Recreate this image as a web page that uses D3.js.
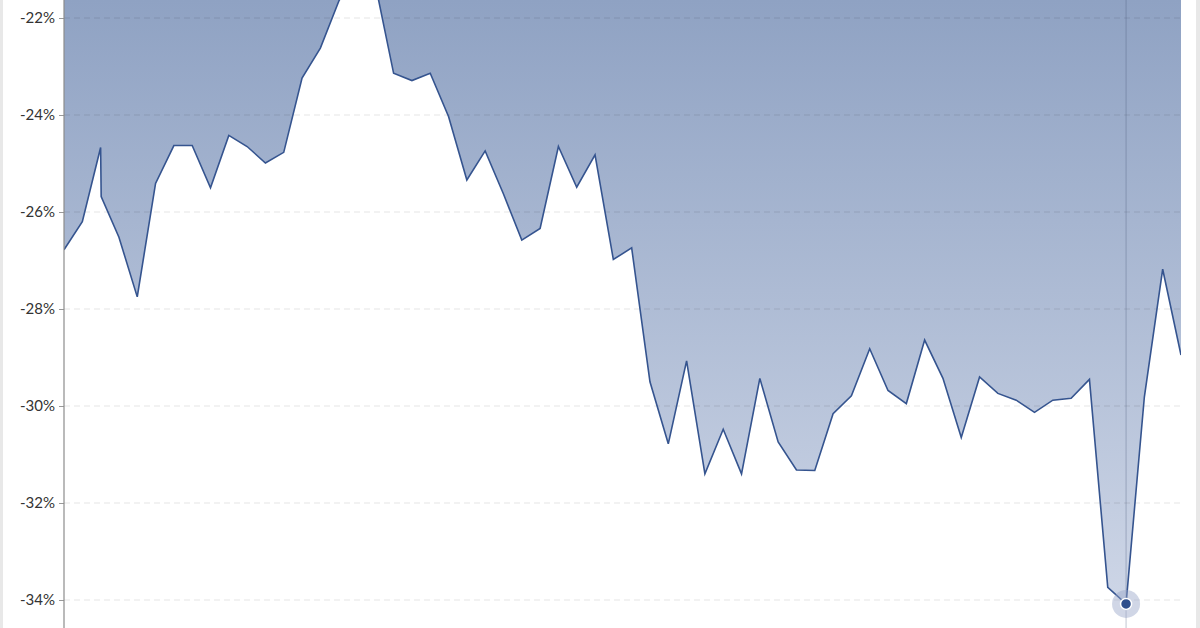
<!DOCTYPE html>
<html>
<head>
<meta charset="utf-8">
<script src="https://cdn.jsdelivr.net/npm/d3@7"></script>
<style>
  html, body { margin: 0; padding: 0; background: #fff; }
  svg { display: block; }
</style>
</head>
<body>
<svg id="chart" width="1200" height="628"></svg>
<script>
// ---- Data ----
const periods = [0, 1, 2, 2.03, 3, 4, 5, 6, 7, 8, 9, 10, 11, 12, 13, 14, 15, 16, 17, 18, 19, 20,
  21, 22, 23, 24, 25, 26, 27, 28, 29, 30, 31, 32, 33, 34, 35, 36, 37, 38, 39, 40,
  41, 42, 43, 44, 45, 46, 47, 48, 49, 50, 51, 52, 53, 54, 55, 56, 57, 58, 59, 60, 61];
const values = [-26.78, -26.2, -24.67, -25.68, -26.52, -27.75, -25.41, -24.63, -24.63, -25.5, -24.42, -24.65, -24.99, -24.77, -23.24, -22.62, -21.66, -20.9, -21.3, -23.14, -23.29, -23.14,
  -24.03, -25.34, -24.74, -25.63, -26.58, -26.34, -24.65, -25.49, -24.82, -26.98, -26.74, -29.5, -30.78, -29.07, -31.4, -30.48, -31.4, -29.43, -30.74, -31.32,
  -31.33, -30.16, -29.79, -28.82, -29.68, -29.95, -28.64, -29.43, -30.65, -29.4, -29.74, -29.88, -30.13, -29.88, -29.84, -29.45, -33.74, -34.08, -29.81, -27.18, -28.95];
const yTicks = [-22, -24, -26, -28, -30, -32, -34];
const highlightPeriod = 58;

const data = periods.map((p, i) => ({ p, v: values[i] }));
const hi = data.find(d => d.p === highlightPeriod);

const svg = d3.select("#chart");
const W = 1200, H = 628;
const plot = { left: 64, right: 1181, top: 0, bottom: 628 };

const x = d3.scaleLinear().domain([0, 61]).range([plot.left, plot.right]);
const y = d3.scaleLinear().domain([-22, -34]).range([18, 600]);

// side strips
svg.append("rect").attr("x", 0).attr("y", 0).attr("width", 3).attr("height", H).attr("fill", "#e8e8e8");
svg.append("rect").attr("x", 1196).attr("y", 0).attr("width", 4).attr("height", H).attr("fill", "#e8e8e8");

const defs = svg.append("defs");
const grad = defs.append("linearGradient")
  .attr("id", "areaGrad").attr("gradientUnits", "userSpaceOnUse")
  .attr("x1", 0).attr("y1", 0).attr("x2", 0).attr("y2", 628);
grad.append("stop").attr("offset", "0%").attr("stop-color", "#8fa2c3");
grad.append("stop").attr("offset", "100%").attr("stop-color", "#d0d8e8");

defs.append("clipPath").attr("id", "plotClip")
  .append("rect").attr("x", plot.left).attr("y", plot.top)
  .attr("width", plot.right - plot.left).attr("height", plot.bottom - plot.top);

const g = svg.append("g").attr("clip-path", "url(#plotClip)");

// area filled from the line up to the top
const area = d3.area().x(d => x(d.p)).y0(plot.top).y1(d => y(d.v));
g.append("path").datum(data).attr("d", area).attr("fill", "url(#areaGrad)");

// gridlines (over the area)
g.append("g").selectAll("line").data(yTicks).join("line")
  .attr("x1", plot.left).attr("x2", plot.right)
  .attr("y1", d => y(d)).attr("y2", d => y(d))
  .attr("stroke", "rgba(0,0,0,0.1)").attr("stroke-width", 1)
  .attr("stroke-dasharray", "6,4");

// crosshair
g.append("line")
  .attr("x1", x(hi.p)).attr("x2", x(hi.p))
  .attr("y1", plot.top).attr("y2", plot.bottom)
  .attr("stroke", "rgba(70,85,115,0.28)").attr("stroke-width", 1.2);

// line
const line = d3.line().x(d => x(d.p)).y(d => y(d.v));
g.append("path").datum(data).attr("d", line)
  .attr("fill", "none").attr("stroke", "#35548f").attr("stroke-width", 1.6)
  .attr("stroke-linejoin", "miter");

// highlight point
svg.append("circle").attr("cx", x(hi.p)).attr("cy", y(hi.v)).attr("r", 14)
  .attr("fill", "rgba(150,165,200,0.45)");
svg.append("circle").attr("cx", x(hi.p)).attr("cy", y(hi.v)).attr("r", 5.5)
  .attr("fill", "#2f4f8c").attr("stroke", "#fff").attr("stroke-width", 1.5);

// y axis
const yAxis = d3.axisLeft(y).tickValues(yTicks).tickSize(5).tickPadding(4)
  .tickFormat(d => d + "%");
const ax = svg.append("g").attr("transform", `translate(${plot.left},0)`).call(yAxis);
ax.select(".domain").remove();
ax.selectAll(".tick line").attr("stroke", "#999");
ax.selectAll(".tick text").attr("fill", "#333")
  .style("font-family", "Lato, 'Open Sans', sans-serif").style("font-size", "15px");
svg.append("line").attr("x1", plot.left).attr("x2", plot.left)
  .attr("y1", 0).attr("y2", H).attr("stroke", "#8c8c8c").attr("stroke-width", 1.2);
</script>
</body>
</html>
